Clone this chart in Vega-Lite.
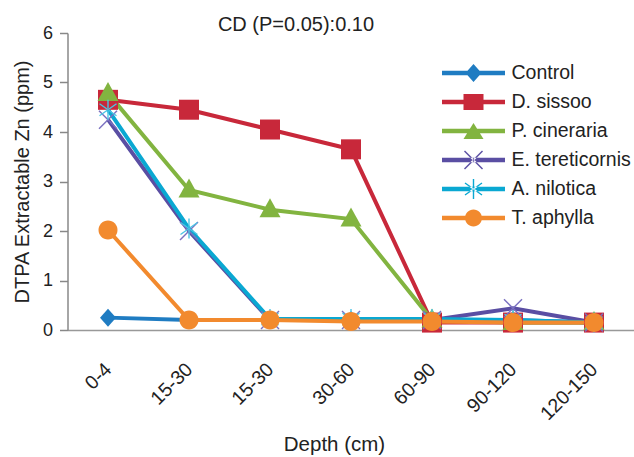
{
  "$schema": "https://vega.github.io/schema/vega-lite/v6.json",
  "width": 567,
  "height": 297,
  "autosize": {"type": "none"},
  "padding": {"left": 67.5, "top": 33, "right": 0, "bottom": 127},
  "background": "white",
  "title": {"text": "CD (P=0.05):0.10", "fontSize": 20, "fontWeight": "normal", "color": "#222", "dx": -55, "offset": -11},
  "data": {"values": [
    {"depth": "0-4", "series": "Control", "zn": 0.25},
    {"depth": "15-30", "series": "Control", "zn": 0.2},
    {"depth": "15-30#2", "series": "Control", "zn": 0.2},
    {"depth": "30-60", "series": "Control", "zn": 0.2},
    {"depth": "60-90", "series": "Control", "zn": 0.2},
    {"depth": "90-120", "series": "Control", "zn": 0.2},
    {"depth": "120-150", "series": "Control", "zn": 0.15},
    {"depth": "0-4", "series": "D. sissoo", "zn": 4.65},
    {"depth": "15-30", "series": "D. sissoo", "zn": 4.45},
    {"depth": "15-30#2", "series": "D. sissoo", "zn": 4.05},
    {"depth": "30-60", "series": "D. sissoo", "zn": 3.65},
    {"depth": "60-90", "series": "D. sissoo", "zn": 0.15},
    {"depth": "90-120", "series": "D. sissoo", "zn": 0.15},
    {"depth": "120-150", "series": "D. sissoo", "zn": 0.15},
    {"depth": "0-4", "series": "P. cineraria", "zn": 4.78},
    {"depth": "15-30", "series": "P. cineraria", "zn": 2.83},
    {"depth": "15-30#2", "series": "P. cineraria", "zn": 2.43},
    {"depth": "30-60", "series": "P. cineraria", "zn": 2.24},
    {"depth": "60-90", "series": "P. cineraria", "zn": 0.2},
    {"depth": "90-120", "series": "P. cineraria", "zn": 0.15},
    {"depth": "120-150", "series": "P. cineraria", "zn": 0.15},
    {"depth": "0-4", "series": "E. tereticornis", "zn": 4.25},
    {"depth": "15-30", "series": "E. tereticornis", "zn": 2.0},
    {"depth": "15-30#2", "series": "E. tereticornis", "zn": 0.2},
    {"depth": "30-60", "series": "E. tereticornis", "zn": 0.2},
    {"depth": "60-90", "series": "E. tereticornis", "zn": 0.2},
    {"depth": "90-120", "series": "E. tereticornis", "zn": 0.44},
    {"depth": "120-150", "series": "E. tereticornis", "zn": 0.15},
    {"depth": "0-4", "series": "A. nilotica", "zn": 4.45},
    {"depth": "15-30", "series": "A. nilotica", "zn": 2.05},
    {"depth": "15-30#2", "series": "A. nilotica", "zn": 0.22},
    {"depth": "30-60", "series": "A. nilotica", "zn": 0.22},
    {"depth": "60-90", "series": "A. nilotica", "zn": 0.22},
    {"depth": "90-120", "series": "A. nilotica", "zn": 0.2},
    {"depth": "120-150", "series": "A. nilotica", "zn": 0.15},
    {"depth": "0-4", "series": "T. aphylla", "zn": 2.02},
    {"depth": "15-30", "series": "T. aphylla", "zn": 0.2},
    {"depth": "15-30#2", "series": "T. aphylla", "zn": 0.2},
    {"depth": "30-60", "series": "T. aphylla", "zn": 0.17},
    {"depth": "60-90", "series": "T. aphylla", "zn": 0.17},
    {"depth": "90-120", "series": "T. aphylla", "zn": 0.15},
    {"depth": "120-150", "series": "T. aphylla", "zn": 0.15}
  ]},
  "encoding": {
    "x": {
      "field": "depth", "type": "ordinal",
      "scale": {"type": "point", "padding": 0.5, "domain": ["0-4", "15-30", "15-30#2", "30-60", "60-90", "90-120", "120-150"]},
      "axis": {
        "title": "Depth (cm)", "titleFontSize": 20.5, "titleFontWeight": "normal", "titleColor": "#222",
        "titleX": 266.5, "titleY": 104, "titleBaseline": "top", "titleAnchor": "middle", "titleAlign": "center",
        "labelExpr": "replace(datum.value, '#2', '')",
        "labelAngle": -45, "labelAlign": "right", "labelBaseline": "middle",
        "labelFontSize": 19.5, "labelColor": "#222", "labelPadding": 36,
        "ticks": false, "domainColor": "#999", "domainWidth": 1.5, "grid": false
      }
    },
    "y": {
      "field": "zn", "type": "quantitative",
      "scale": {"domain": [0, 6], "nice": false},
      "axis": {
        "title": "DTPA Extractable Zn (ppm)", "titleFontSize": 20, "titleFontWeight": "normal", "titleColor": "#222", "titlePadding": 10,
        "values": [0, 1, 2, 3, 4, 5, 6], "labelFontSize": 18, "labelColor": "#222", "labelPadding": 7,
        "tickSize": 8, "tickColor": "#888", "domainColor": "#888", "domainWidth": 1.5, "tickWidth": 1.5, "grid": false
      }
    }
  },
  "layer": [
    {
      "mark": {"type": "line", "strokeWidth": 4},
      "encoding": {
        "color": {"field": "series", "type": "nominal",
          "scale": {"domain": ["Control", "D. sissoo", "P. cineraria", "E. tereticornis", "A. nilotica", "T. aphylla"],
                    "range": ["#1f7cc2", "#c8283a", "#82b440", "#5a4ea3", "#0aa8d2", "#f28a2e"]},
          "legend": null}
      }
    },
    {
      "mark": {"type": "point", "filled": true, "opacity": 1, "size": 400, "strokeWidth": 0},
      "encoding": {
        "color": {"field": "series", "type": "nominal",
          "scale": {"domain": ["Control", "D. sissoo", "P. cineraria", "E. tereticornis", "A. nilotica", "T. aphylla"],
                    "range": ["#1f7cc2", "#c8283a", "#82b440", "#7a70c0", "#4cc4e4", "#f28a2e"]},
          "legend": null},
        "shape": {"field": "series", "type": "nominal",
          "scale": {"domain": ["Control", "D. sissoo", "P. cineraria", "E. tereticornis", "A. nilotica", "T. aphylla"],
                    "range": [
                      "M0,-0.9L0.8,0L0,0.9L-0.8,0Z",
                      "M-1,-1H1V1H-1Z",
                      "M0,-1.15L1.05,0.75H-1.05Z",
                      "M-0.95,-0.85L0.85,0.95L0.95,0.85L-0.85,-0.95ZM-0.85,0.95L0.95,-0.85L0.85,-0.95L-0.95,0.85Z",
                      "M-0.07,-1H0.07V1H-0.07ZM-0.89,-0.543L0.81,0.657L0.89,0.543L-0.81,-0.657ZM-0.81,0.657L0.89,-0.543L0.81,-0.657L-0.89,0.543Z",
                      "M0.95,0A0.95,0.95,0,1,1,-0.95,0A0.95,0.95,0,1,1,0.95,0Z"
                    ]},
          "legend": null}
      }
    },
    {
      "mark": {"type": "point", "filled": true, "opacity": 0, "size": 400, "strokeWidth": 0},
      "encoding": {
        "color": {"field": "series", "type": "nominal",
          "scale": {"domain": ["Control", "D. sissoo", "P. cineraria", "E. tereticornis", "A. nilotica", "T. aphylla"],
                    "range": ["#1f7cc2", "#c8283a", "#82b440", "#5a4ea3", "#0aa8d2", "#f28a2e"]},
          "legend": {"title": null}},
        "shape": {"field": "series", "type": "nominal",
          "scale": {"domain": ["Control", "D. sissoo", "P. cineraria", "E. tereticornis", "A. nilotica", "T. aphylla"],
                    "range": [
                      "M-3.15,-0.22H3.15V0.22H-3.15ZM0,-0.9L0.8,0L0,0.9L-0.8,0Z",
                      "M-3.15,-0.22H3.15V0.22H-3.15ZM-1,-0.8H1V0.8H-1Z",
                      "M-3.15,-0.22H3.15V0.22H-3.15ZM0,-0.8L1,0.8H-1Z",
                      "M-3.15,-0.22H3.15V0.22H-3.15ZM-0.95,-0.85L0.85,0.95L0.95,0.85L-0.85,-0.95ZM-0.85,0.95L0.95,-0.85L0.85,-0.95L-0.95,0.85Z",
                      "M-3.15,-0.22H3.15V0.22H-3.15ZM-0.07,-1H0.07V1H-0.07ZM-0.89,-0.543L0.81,0.657L0.89,0.543L-0.81,-0.657ZM-0.81,0.657L0.89,-0.543L0.81,-0.657L-0.89,0.543Z",
                      "M-3.15,-0.22H3.15V0.22H-3.15ZM0.85,0A0.85,0.85,0,1,1,-0.85,0A0.85,0.85,0,1,1,0.85,0Z"
                    ]},
          "legend": {"title": null}}
      }
    }
  ],
  "resolve": {"scale": {"color": "independent", "shape": "independent"}},
  "config": {
    "view": {"stroke": null},
    "font": "Liberation Sans",
    "legend": {
      "orient": "none", "legendX": 396, "legendY": 30, "padding": 0,
      "symbolSize": 400, "symbolOpacity": 1, "symbolStrokeWidth": 0,
      "labelFontSize": 19.5, "labelColor": "#222", "labelOffset": 28, "rowPadding": 9
    }
  }
}
